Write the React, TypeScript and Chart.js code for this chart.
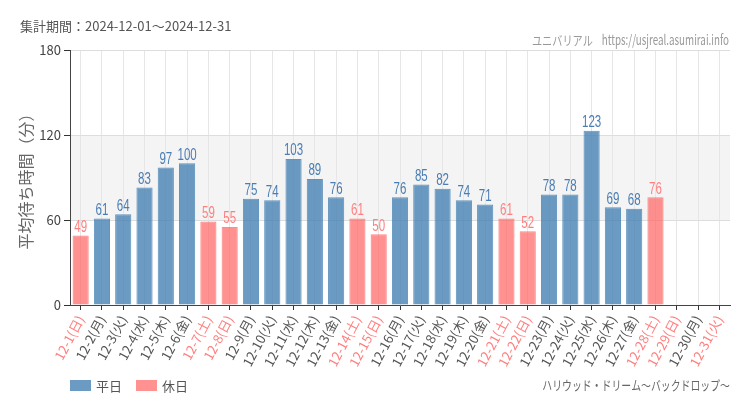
import React, { useEffect, useRef } from "react";
import { Chart, registerables } from "chart.js";

Chart.register(...registerables);

const categories = [
  "12-1(日)", "12-2(月)", "12-3(火)", "12-4(水)", "12-5(木)", "12-6(金)", "12-7(土)",
  "12-8(日)", "12-9(月)", "12-10(火)", "12-11(水)", "12-12(木)", "12-13(金)", "12-14(土)",
  "12-15(日)", "12-16(月)", "12-17(火)", "12-18(水)", "12-19(木)", "12-20(金)", "12-21(土)",
  "12-22(日)", "12-23(月)", "12-24(火)", "12-25(水)", "12-26(木)", "12-27(金)", "12-28(土)",
  "12-29(日)", "12-30(月)", "12-31(火)",
];
const values: (number | null)[] = [
  49, 61, 64, 83, 97, 100, 59, 55, 75, 74, 103, 89, 76, 61, 50, 76, 85, 82, 74, 71, 61, 52,
  78, 78, 123, 69, 68, 76, null, null, null,
];
const holidays = [
  true, false, false, false, false, false, true, true, false, false, false, false, false, true,
  true, false, false, false, false, false, true, true, false, false, false, false, false, true,
  true, false, true,
];
const yTicks = [0, 60, 120, 180];
const seriesNames = ["平日", "休日"];
const periodText = "集計期間：2024-12-01～2024-12-31";
const siteText = "ユニバリアル";
const urlText = "https://usjreal.asumirai.info";
const attractionText = "ハリウッド・ドリーム～バックドロップ～";

const JP = '"Noto Sans CJK JP", "Noto Sans", sans-serif';
const LIB = '"Liberation Sans", "DejaVu Sans", sans-serif';

const BLUE_BG = "rgba(70,130,180,0.8)";
const BLUE_BORDER = "rgba(70,130,180,0.85)";
const BLUE_TEXT = "#4a7db3";
const PINK_BG = "rgba(255,99,99,0.7)";
const PINK_BORDER = "rgba(255,99,99,0.75)";
const PINK_TEXT = "#ff7f7f";

export default function App() {
  const ref = useRef<HTMLCanvasElement | null>(null);

  useEffect(() => {
    document.body.style.margin = "0";
    const canvas = ref.current;
    if (!canvas) return;

    const weekdayData = values.map((v, i) => (holidays[i] ? null : v));
    const holidayData = values.map((v, i) => (holidays[i] ? v : null));

    const drawNarrow = (ctx: any, text: string, x: number, y: number, sx: number, align: string) => {
      ctx.save();
      const w = ctx.measureText(text).width * sx;
      let left = x;
      if (align === "right") left = x - w;
      if (align === "center") left = x - w / 2;
      ctx.translate(left, y);
      ctx.scale(sx, 1);
      ctx.textAlign = "left";
      ctx.fillText(text, 0, 0);
      ctx.restore();
      return w;
    };

    const bandPlugin = {
      id: "band",
      beforeDraw(chart: any) {
        const { ctx, chartArea } = chart;
        const y = chart.scales.y;
        const top = y.getPixelForValue(yTicks[2]);
        const bottom = y.getPixelForValue(yTicks[1]);
        ctx.save();
        ctx.fillStyle = "#f4f4f4";
        ctx.fillRect(chartArea.left, top, chartArea.right - chartArea.left, bottom - top);
        ctx.restore();
      },
    };

    const labelPlugin = {
      id: "valueLabels",
      afterDatasetsDraw(chart: any) {
        const { ctx } = chart;
        ctx.save();
        ctx.font = `16px ${LIB}`;
        ctx.textBaseline = "bottom";
        chart.data.datasets.forEach((ds: any, di: number) => {
          const meta = chart.getDatasetMeta(di);
          ctx.fillStyle = di === 0 ? BLUE_TEXT : PINK_TEXT;
          meta.data.forEach((el: any, i: number) => {
            const v = ds.data[i];
            if (v === null || v === undefined) return;
            drawNarrow(ctx, String(v), el.x, el.y, 0.72, "center");
          });
        });
        ctx.restore();
      },
    };

    const textPlugin = {
      id: "texts",
      afterDraw(chart: any) {
        const { ctx } = chart;
        ctx.save();
        ctx.textBaseline = "middle";
        ctx.fillStyle = "#555";
        ctx.font = `13px ${JP}`;
        ctx.textAlign = "left";
        ctx.fillText(periodText, 20, 26);
        ctx.fillStyle = "#999";
        ctx.font = `14px ${JP}`;
        const w1 = drawNarrow(ctx, urlText, 729, 40, 0.7, "right");
        ctx.font = `13px ${JP}`;
        drawNarrow(ctx, siteText, 729 - w1 - 9, 40, 0.78, "right");
        ctx.fillStyle = "#666";
        ctx.font = `13px ${JP}`;
        drawNarrow(ctx, attractionText, 730, 385, 0.76, "right");
        const items = chart.data.datasets;
        let x = 70;
        items.forEach((ds: any) => {
          ctx.fillStyle = ds.backgroundColor;
          ctx.fillRect(x, 380, 21, 11);
          ctx.fillStyle = "#555";
          ctx.font = `13px ${JP}`;
          ctx.textAlign = "left";
          ctx.fillText(ds.label, x + 26, 386);
          x += 26 + ctx.measureText(ds.label).width + 14;
        });
        ctx.restore();
      },
    };

    const chart = new Chart(canvas, {
      type: "bar",
      data: {
        labels: categories,
        datasets: [
          {
            label: seriesNames[0],
            data: weekdayData,
            backgroundColor: BLUE_BG,
            borderColor: BLUE_BORDER,
            borderWidth: 1,
            grouped: false,
            barPercentage: 0.76,
            categoryPercentage: 1,
          },
          {
            label: seriesNames[1],
            data: holidayData,
            backgroundColor: PINK_BG,
            borderColor: PINK_BORDER,
            borderWidth: 1,
            grouped: false,
            barPercentage: 0.76,
            categoryPercentage: 1,
          },
        ] as any,
      },
      options: {
        animation: false,
        responsive: false,
        devicePixelRatio: 1,
        layout: { padding: { left: 0, right: 20, top: 50, bottom: 40 } },
        plugins: {
          legend: { display: false },
          tooltip: { enabled: false },
        },
        scales: {
          x: {
            grid: {
              offset: false,
              color: "#e6e6e6",
              tickColor: "#333",
              tickLength: 5,
            },
            border: { color: "#444", width: 1 },
            ticks: {
              autoSkip: false,
              maxRotation: 62,
              minRotation: 62,
              padding: 3,
              font: { size: 13, family: JP },
              color: (c: any) => (holidays[c.index] ? "#ff7f7f" : "#555"),
            },
            afterFit(scale: any) {
              scale.height = 65;
            },
          },
          y: {
            min: yTicks[0],
            max: yTicks[yTicks.length - 1],
            afterBuildTicks(scale: any) {
              scale.ticks = yTicks.map((v) => ({ value: v }));
            },
            grid: { color: "#dddddd", tickColor: "#333", tickLength: 6 },
            border: { color: "#444", width: 1 },
            ticks: {
              padding: 3,
              font: { size: 13, family: JP },
              color: "#444",
            },
            title: {
              display: true,
              text: "平均待ち時間（分）",
              color: "#666",
              font: { size: 16, family: JP },
              padding: { top: 16, bottom: 0 },
            },
            afterFit(scale: any) {
              scale.width = 70;
            },
          },
        },
      },
      plugins: [bandPlugin, labelPlugin, textPlugin],
    });

    return () => chart.destroy();
  }, []);

  return (
    <div style={{ position: "absolute", left: 0, top: 0, width: 750, height: 410 }}>
      <canvas ref={ref} width={750} height={410} style={{ width: 750, height: 410 }} />
    </div>
  );
}
